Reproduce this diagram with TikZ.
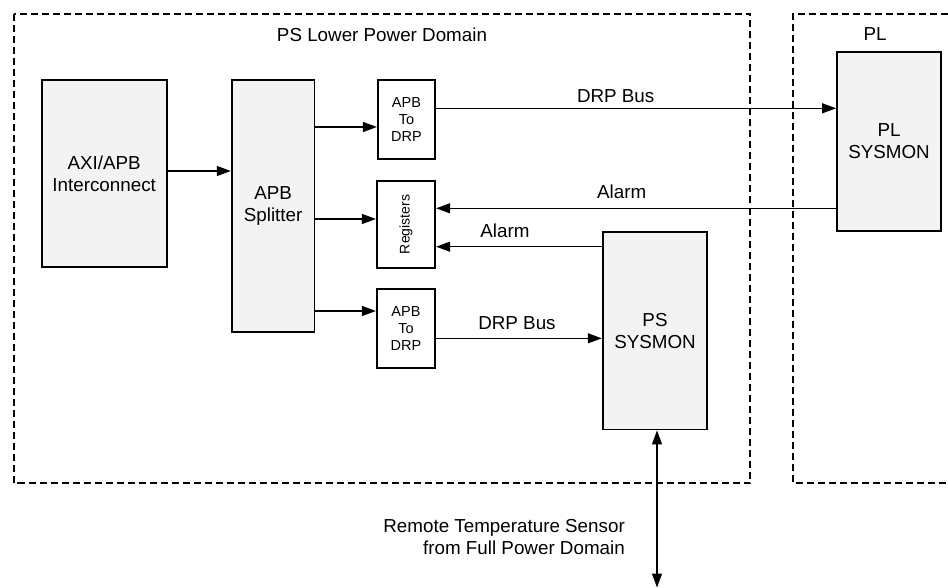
\documentclass[tikz,border=0pt]{standalone}
\usepackage{fontspec}
\setmainfont{Liberation Sans}
\usetikzlibrary{arrows.meta}
\definecolor{boxgray}{HTML}{F3F3F3}
\begin{document}
\begin{tikzpicture}[x=1pt,y=-1pt,
  bigbox/.style={draw, fill=boxgray, line width=1.8pt, inner sep=0pt, align=center,
     font=\fontsize{18.8}{22}\selectfont},
  smallbox/.style={draw, fill=white, line width=2.2pt, inner sep=0pt, align=center,
     font=\fontsize{14.5}{17}\selectfont},
  domainbox/.style={line width=2pt, dash pattern=on 7pt off 4pt},
  arr/.style={line width=1.2pt, -{Triangle[length=14pt,width=10pt]}},
  dbl/.style={line width=1.2pt, {Triangle[length=14pt,width=10pt]}-{Triangle[length=14pt,width=10pt]}},
  lbl/.style={inner sep=0pt, anchor=base, font=\fontsize{18.8}{22}\selectfont}]
\useasboundingbox (0,0) rectangle (948,588);
% domains
\draw[domainbox] (13.5,14) rectangle (750,483);
\draw[domainbox] (948,14) -- (793,14) -- (793,483) -- (948,483);
\node[lbl] (pslab) at (382,41.7) {PS Lower Power Domain};
\node[lbl] (pllab) at (875,40.7) {PL};
% blocks
\node[bigbox, minimum width=125pt, minimum height=187pt] (ic) at (104.2,173.3) {AXI/APB\\Interconnect};
\node[bigbox, minimum width=82.8pt, minimum height=252pt] (sp) at (273.1,206) {APB\\Splitter};
\node[smallbox, minimum width=57pt, minimum height=79pt] (d1) at (406.5,119.5) {APB\\To\\DRP};
\node[smallbox, minimum width=58pt, minimum height=87pt] (reg) at (406,224.5) {\rotatebox{90}{\fontsize{14}{17}\selectfont Registers}};
\node[smallbox, minimum width=58pt, minimum height=78.4pt] (d2) at (406,328.5) {APB\\To\\DRP};
\node[bigbox, minimum width=104.6pt, minimum height=197.8pt] (pss) at (655,330.6) {PS\\SYSMON};
\node[bigbox, minimum width=104pt, minimum height=179.3pt] (pls) at (889,141.3) {PL\\SYSMON};
% connectors
\draw[arr] (ic.east |- 0,171) -- (sp.west |- 0,171);
\draw[arr] (sp.east |- 0,127) -- (d1.west |- 0,127);
\draw[arr] (sp.east |- 0,219) -- (reg.west |- 0,219);
\draw[arr] (sp.east |- 0,311) -- (d2.west |- 0,311);
\draw[arr] (d1.east |- 0,108.3) -- (pls.west |- 0,108.3);
\draw[arr] (pls.west |- 0,208.3) -- (reg.east |- 0,208.3);
\draw[arr] (pss.west |- 0,246.7) -- (reg.east |- 0,246.7);
\draw[arr] (d2.east |- 0,338.3) -- (pss.west |- 0,338.3);
\coordinate (rt) at (657,587.5);
\draw[dbl] (rt |- pss.south) -- (rt);
% connector labels
\node[lbl] (l1) at (615.7,102.7) {DRP Bus};
\node[lbl] (l2) at (621.7,199) {Alarm};
\node[lbl] (l3) at (505,237) {Alarm};
\node[lbl] (l4) at (517,329) {DRP Bus};
\node[inner sep=0pt, anchor=north east, align=right, font=\fontsize{18.8}{22}\selectfont] (rts) at (625,519) {Remote Temperature Sensor\\from Full Power Domain};
\end{tikzpicture}
\end{document}
